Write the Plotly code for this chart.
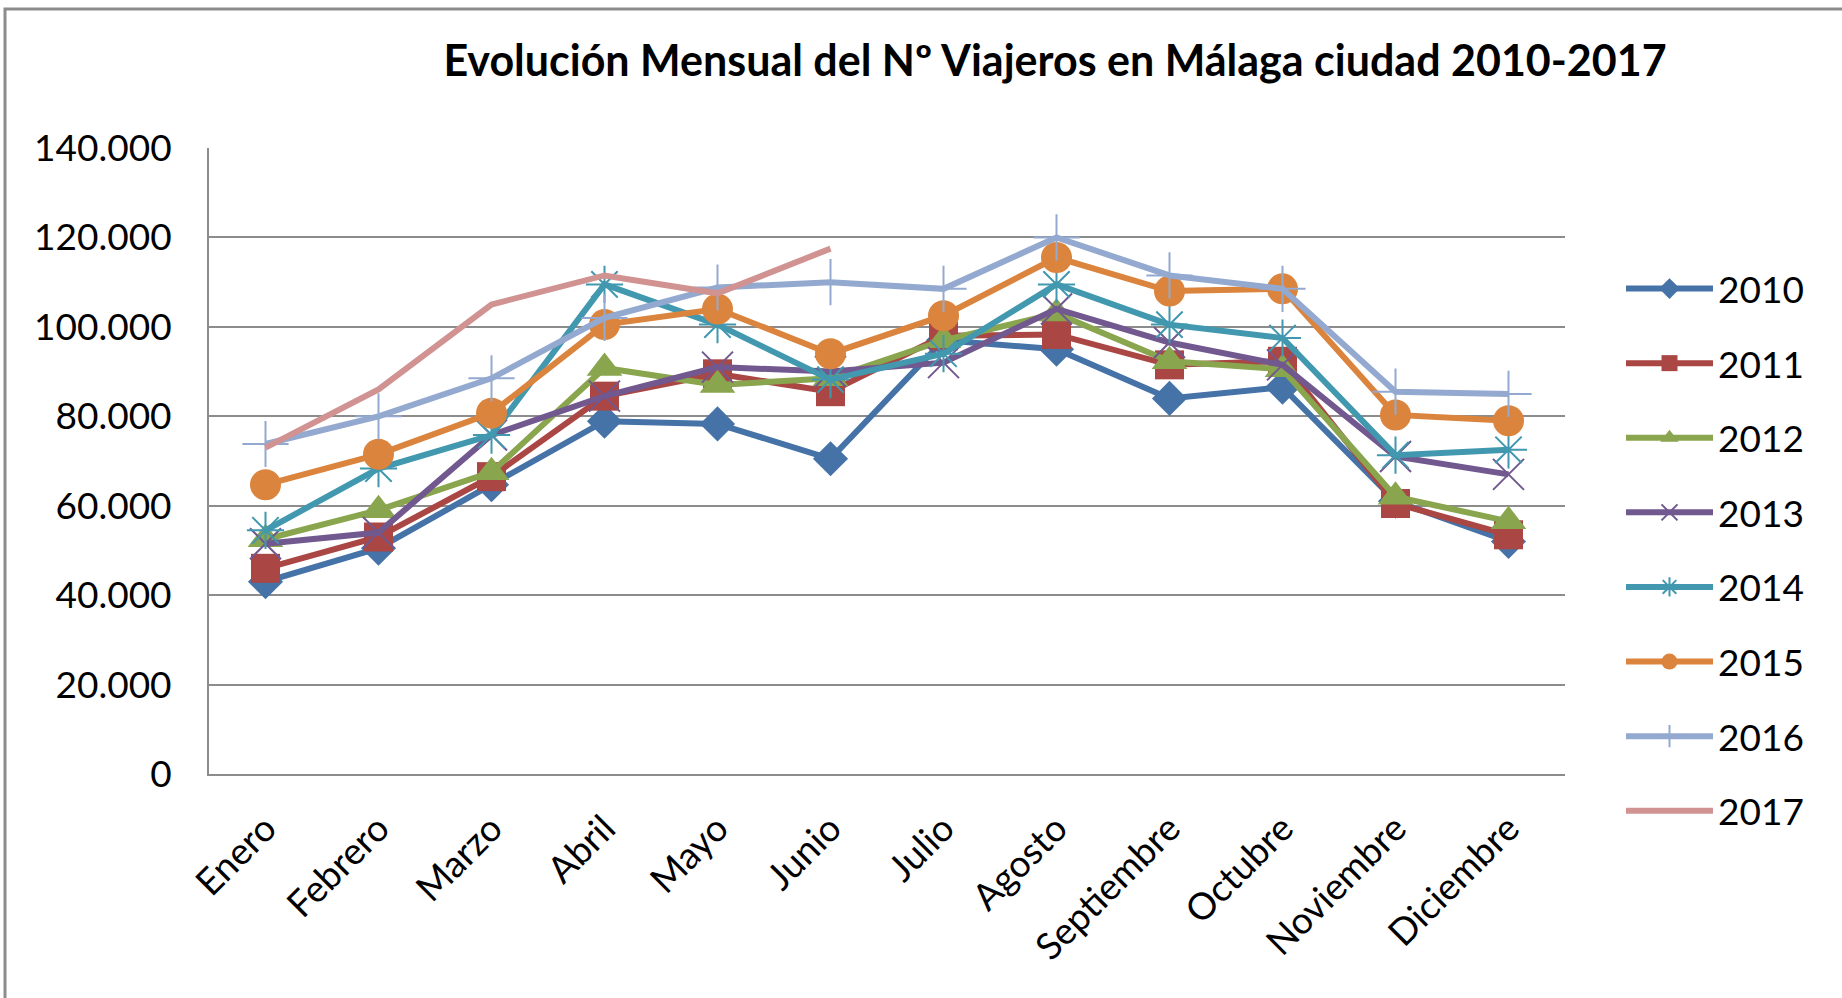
import plotly.graph_objects as go

meses = ["Enero", "Febrero", "Marzo", "Abril", "Mayo", "Junio", "Julio",
         "Agosto", "Septiembre", "Octubre", "Noviembre", "Diciembre"]

v2010 = [43000, 50500, 64700, 78900, 78300, 70500, 97000, 95000, 84000, 86500, 61000, 52000]
v2011 = [46000, 53000, 66500, 84500, 89500, 85500, 98000, 98300, 91500, 92300, 60500, 53500]
v2012 = [52500, 59000, 67500, 90800, 87000, 88500, 97000, 103000, 92300, 90500, 62000, 56500]
v2013 = [51500, 54000, 75800, 84500, 91000, 90000, 92000, 104000, 96500, 91500, 71000, 67000]
v2014 = [54500, 68300, 75800, 109500, 100500, 88200, 94000, 109500, 100500, 97500, 71300, 72500]
v2015 = [64700, 71500, 80700, 100500, 104000, 94000, 102500, 115500, 108000, 108500, 80300, 79000]
v2016 = [73800, 80000, 88500, 102000, 108800, 110000, 108500, 120000, 111500, 108500, 85500, 85000]
v2017 = [73000, 86000, 105000, 111500, 107500, 117500, None, None, None, None, None, None]

years = ["2010", "2011", "2012", "2013", "2014", "2015", "2016", "2017"]
series = [v2010, v2011, v2012, v2013, v2014, v2015, v2016, v2017]

colors = ["#4572A7", "#AA4643", "#89A54E", "#71588F", "#4198AF", "#DB843D", "#93A9CF", "#D19392"]
symbols = ["diamond", "square", "triangle-up", "x-thin-open", "asterisk-open", "circle", "cross-thin-open", None]
sizes = [27, 29, 31, 31, 31, 31, 33, 0]

FONT = "Lato"
fig = go.Figure()
for name, vals, col, sym, sz in zip(years, series, colors, symbols, sizes):
    if sym is None:
        mode = "lines"
        marker = None
    else:
        mode = "lines+markers"
        marker = dict(symbol=sym, size=sz, color=col, line=dict(color=col, width=2 if "open" in sym else 0))
    fig.add_trace(go.Scatter(
        x=meses, y=vals, name=name, mode=mode, legendgroup=name,
        line=dict(color=col, width=6),
        marker=marker, connectgaps=False,
    ))

fig.update_layout(
    width=1842, height=998,
    margin=dict(l=0, r=0, t=0, b=0, pad=0),
    paper_bgcolor="white", plot_bgcolor="white",
    separators=",.",
    font=dict(family=FONT, color="#000000", size=37),
    title=dict(text="<b>Evolución Mensual del Nº Viajeros en Málaga ciudad 2010-2017</b>",
               x=1055 / 1842, xanchor="center", y=1 - 61 / 998, yanchor="middle",
               font=dict(family=FONT, size=43, color="#000000")),
    xaxis=dict(domain=[209 / 1842, 1565 / 1842], range=[-0.5, 11.5], showgrid=False, showline=True,
               linecolor="#8C8C8C", linewidth=2, tickangle=-45, ticks="",
               tickfont=dict(family=FONT, size=37, color="#000000"),
               ticklabelstandoff=16, automargin=False),
    yaxis=dict(domain=[(998 - 774) / 998, (998 - 148) / 998], range=[0, 140000],
               dtick=20000, tickformat=",d", showgrid=True, gridcolor="#8C8C8C",
               gridwidth=2, showline=True, linecolor="#8C8C8C", linewidth=2,
               zeroline=False, ticks="", ticklabelstandoff=28,
               tickfont=dict(family=FONT, size=37, color="#000000"), automargin=False),
    legend=dict(x=1621 / 1842, xanchor="left", y=1 - 258 / 998, yanchor="top",
                font=dict(family=FONT, size=37, color="#000000"),
                tracegroupgap=23.5, itemwidth=87, bgcolor="rgba(0,0,0,0)",
                traceorder="grouped"),
    hovermode=False,
    shapes=[dict(type="rect", xref="paper", yref="paper", x0=5 / 1842, x1=1.05,
                 y0=-0.05, y1=1 - 9 / 998, line=dict(color="#8C8C8C", width=3),
                 fillcolor="rgba(0,0,0,0)", layer="below")],
)

fig.write_html("out.html", config={"displayModeBar": False},
               post_script="document.body.style.margin='0';document.body.style.overflow='hidden';")
